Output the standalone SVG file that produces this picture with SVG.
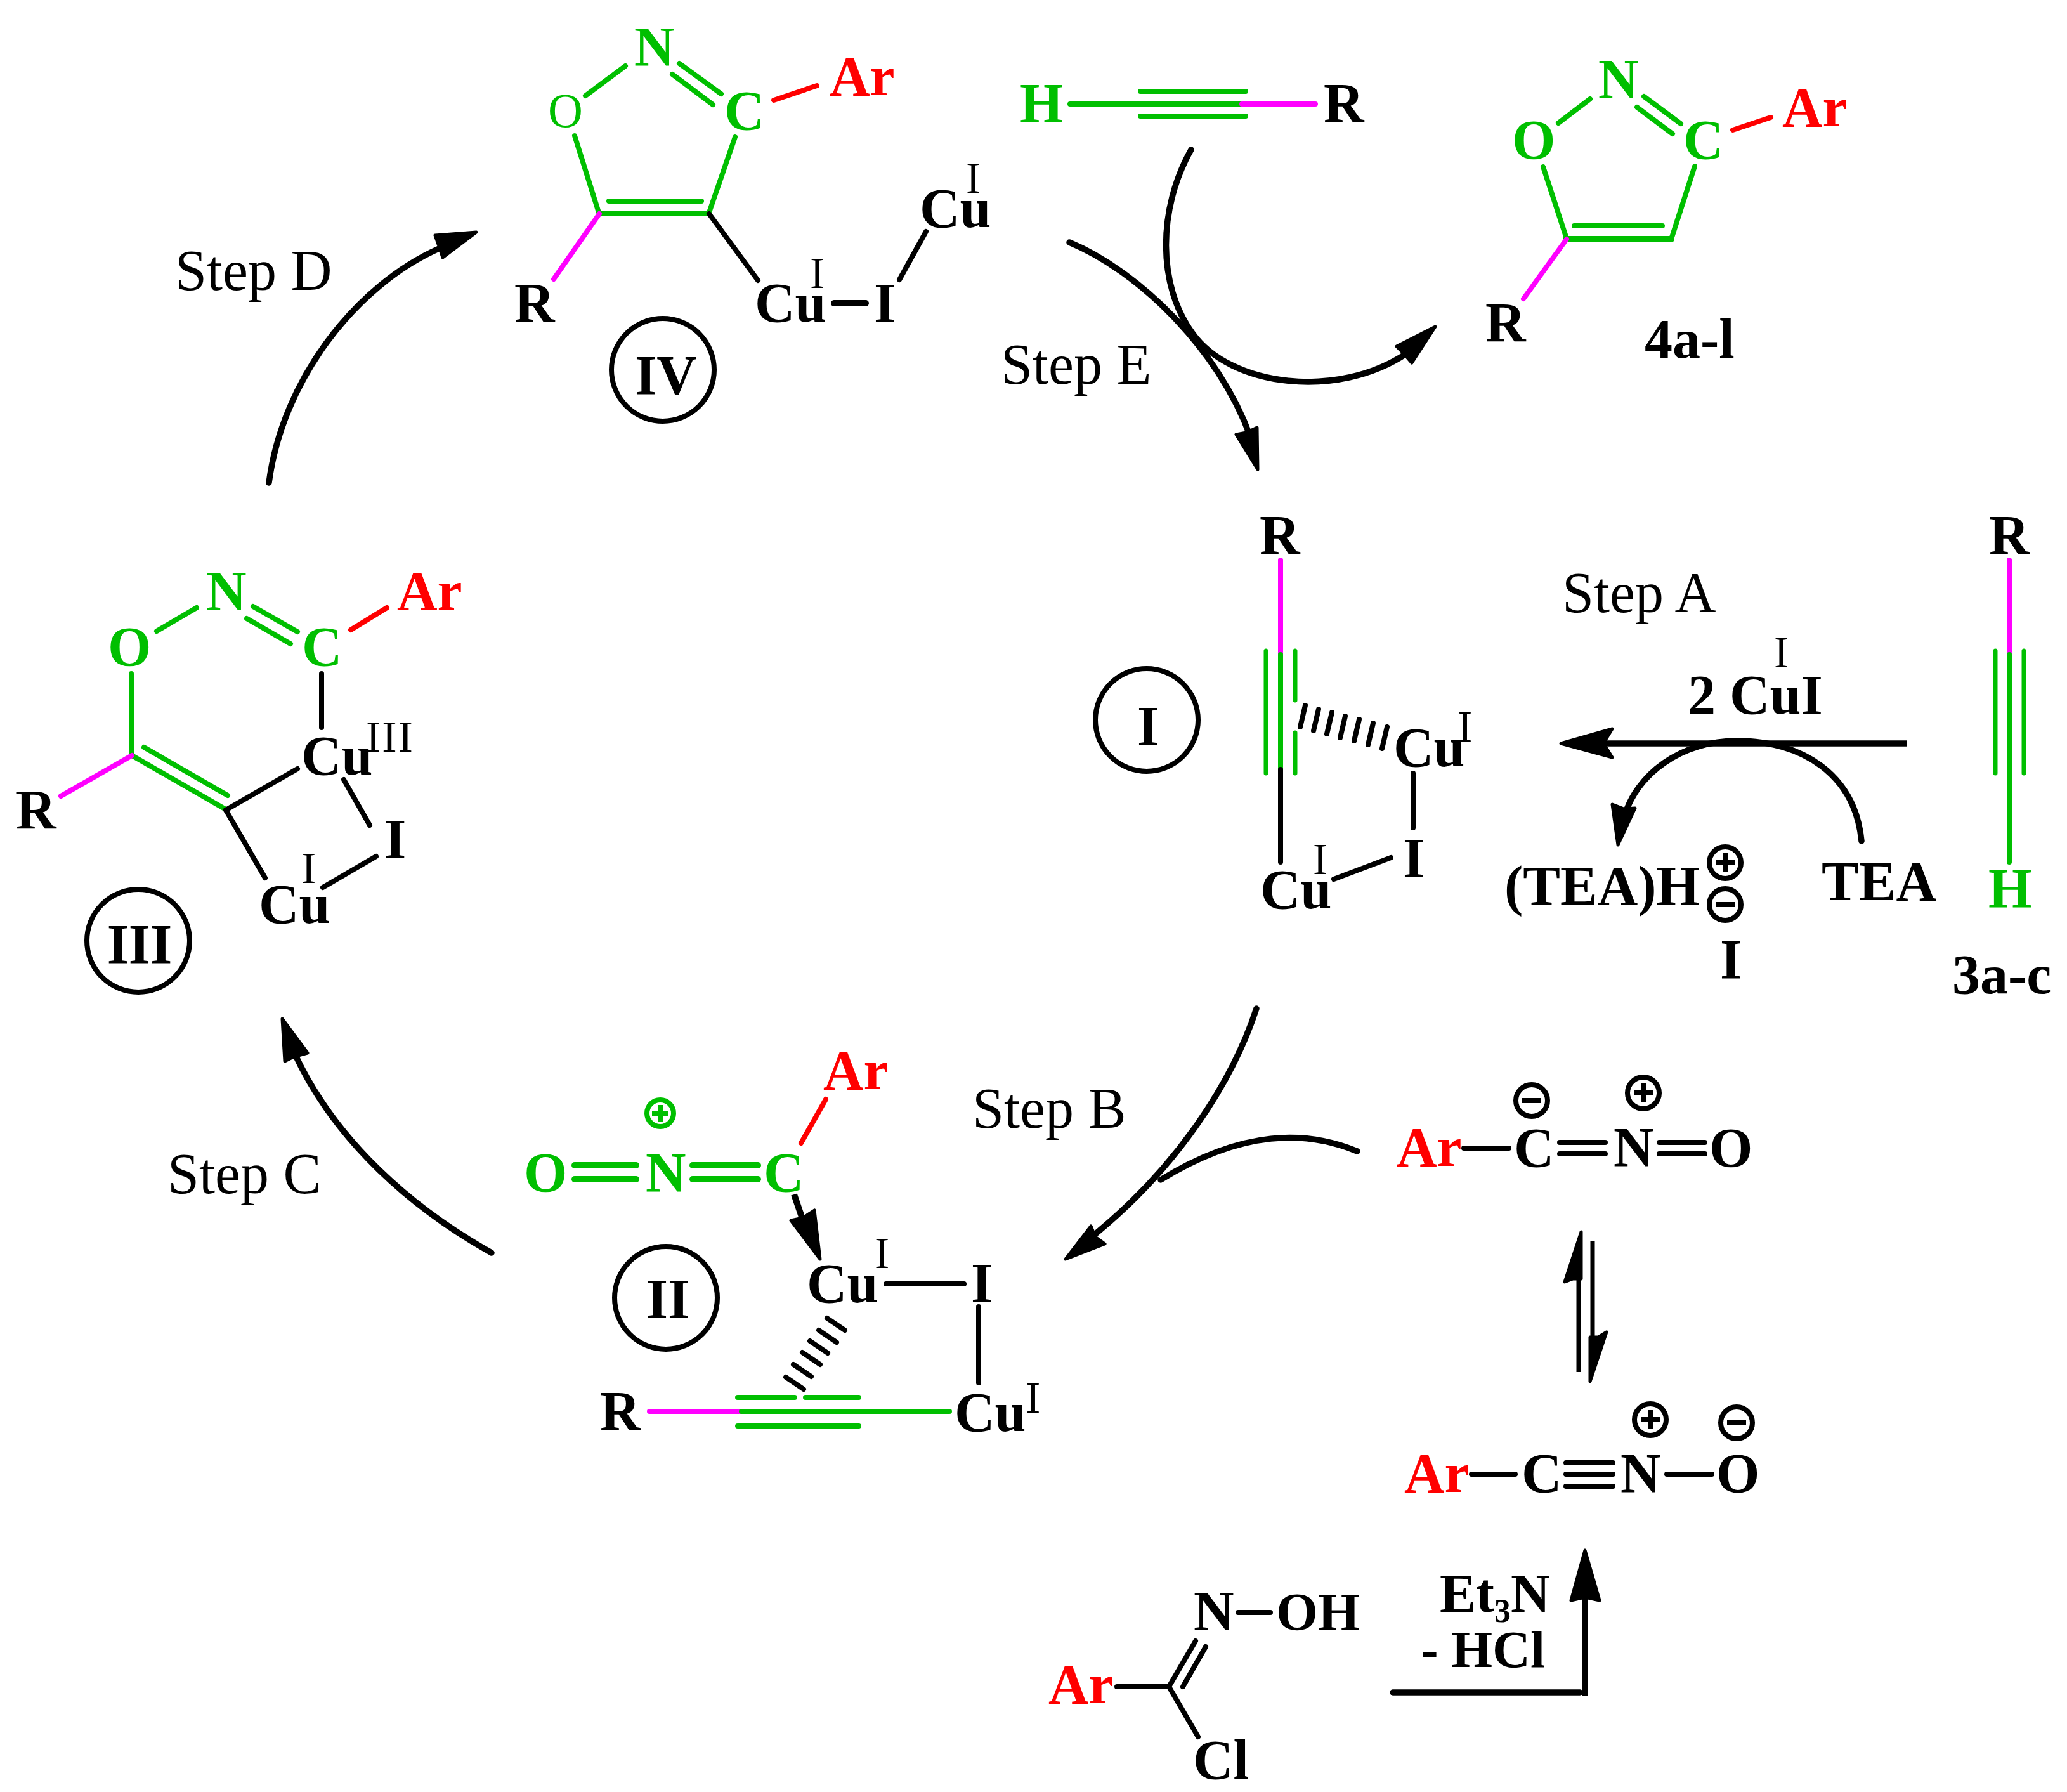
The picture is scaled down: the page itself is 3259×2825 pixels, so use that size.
<svg xmlns="http://www.w3.org/2000/svg" width="3259" height="2825" viewBox="0 0 3259 2825">
<style>
text{font-family:"Liberation Serif","Times New Roman",serif;font-size:88px;font-weight:700;fill:#000}
text.r{font-weight:400;font-size:90px}
text.s{font-weight:400;font-size:70px}
text.g{fill:#00bf00}
text.a{fill:#f00}
line,path.l{stroke-width:8;stroke-linecap:round;fill:none}
.gb{stroke:#00bf00}
.mb{stroke:#f0f}
.rb{stroke:#f00}
.bb{stroke:#000}
.c{fill:none;stroke:#000;stroke-width:8}
.arc{fill:none;stroke:#000;stroke-width:9.5;stroke-linecap:round}
.hd{fill:#000;stroke:#000;stroke-width:5;stroke-linejoin:round}
line.th{stroke-width:10}
line.tn{stroke-width:7}
</style>
<defs>
<g id="plus"><circle r="25" fill="none" stroke="#000" stroke-width="8"/><path d="M-15 0H15M0-15V15" stroke="#000" stroke-width="8" fill="none"/></g>
<g id="minus"><circle r="25" fill="none" stroke="#000" stroke-width="8"/><path d="M-15 0H15" stroke="#000" stroke-width="8" fill="none"/></g>
<g id="plusg"><circle r="21" fill="none" stroke="#00bf00" stroke-width="8"/><path d="M-13 0H13M0-13V13" stroke="#00bf00" stroke-width="8" fill="none"/></g>
</defs>
<rect width="3259" height="2825" fill="#fff"/>

<g id="connectors">
<path class="arc" d="M424 761C445 600 560 450 694 391"/>
<polygon class="hd" points="751,366 686,371 692,388 698,406"/>
<path class="arc" d="M775 1975C650 1905 530 1800 466 1664"/>
<polygon class="hd" points="445,1606 449,1673 463,1666 485,1660"/>
<path class="arc" d="M1686 382C1790 425 1920 545 1972 690"/>
<polygon class="hd" points="1983,740 1949,685 1965,682 1982,674"/>
<path class="arc" d="M1878 236C1825 330 1825 450 1880 525C1940 610 2110 630 2218 557"/>
<polygon class="hd" points="2263,515 2202,546 2214,558 2226,572"/>
<path class="arc" d="M1981 1590C1945 1700 1860 1840 1715 1955"/>
<polygon class="hd" points="1680,1985 1720,1933 1727,1950 1742,1961"/>
<path class="arc" d="M2140 1815C2060 1782 1960 1780 1830 1860"/>
<path class="arc" style="stroke-linecap:butt" d="M3007 1172H2530"/>
<polygon class="hd" points="2461,1172 2542,1149 2528,1172 2542,1194"/>
<path class="arc" d="M2935 1326C2925 1220 2840 1168 2740 1168C2650 1168 2580 1220 2560 1290"/>
<polygon class="hd" points="2551,1332 2542,1268 2560,1275 2578,1274"/>
<path class="arc" style="stroke-linecap:butt;stroke-width:7" d="M2489 2163V2000"/>
<polygon class="hd" points="2493,1942 2467,2021 2480,2016 2493,2016"/>
<path class="arc" style="stroke-linecap:butt;stroke-width:7" d="M2511 1956V2120"/>
<polygon class="hd" points="2507,2178 2507,2108 2520,2108 2533,2100"/>
<path class="arc" d="M2196 2668H2491"/>
<path class="arc" style="stroke-linecap:butt" d="M2499 2673V2510"/>
<polygon class="hd" points="2499,2444 2477,2523 2499,2518 2522,2523"/>
</g>

<g id="compound-IV">
<line class="gb" x1="923" y1="151" x2="986" y2="104"/>
<line class="gb" x1="1071" y1="100" x2="1137" y2="148"/>
<line class="gb" x1="1060" y1="117" x2="1124" y2="165"/>
<line class="rb" x1="1220" y1="158" x2="1288" y2="135"/>
<line class="gb" x1="906" y1="214" x2="944" y2="335"/>
<line class="gb" x1="1159" y1="216" x2="1118" y2="335"/>
<line class="gb" x1="946" y1="337" x2="1118" y2="337"/>
<line class="gb" x1="960" y1="317" x2="1106" y2="317"/>
<line class="mb" x1="945" y1="337" x2="873" y2="440"/>
<line class="bb" x1="1118" y1="337" x2="1195" y2="442"/>
<line class="bb th" x1="1315" y1="478" x2="1365" y2="478"/>
<line class="bb" x1="1418" y1="441" x2="1460" y2="365"/>
<text class="r g" style="font-size:76px" x="864" y="200">O</text>
<text class="g" x="1000" y="103">N</text>
<text class="g" x="1142" y="204">C</text>
<text class="a" x="1308" y="150">Ar</text>
<text x="811" y="507">R</text>
<text x="1190" y="507">Cu</text>
<text class="s" x="1277" y="454">I</text>
<text x="1378" y="507">I</text>
<text x="1450" y="358">Cu</text>
<text class="s" x="1523" y="304">I</text>
<ellipse class="c" cx="1045" cy="583" rx="81" ry="81"/>
<text text-anchor="middle" x="1050" y="621">IV</text>
</g>

<g id="alkyne-top">
<line class="gb" x1="1687" y1="164" x2="1960" y2="164"/>
<line class="gb" x1="1798" y1="144" x2="1964" y2="144"/>
<line class="gb" x1="1798" y1="183" x2="1964" y2="183"/>
<line class="mb" x1="1958" y1="164" x2="2074" y2="164"/>
<text class="g" x="1608" y="192">H</text>
<text x="2087" y="192">R</text>
</g>

<g id="product-4a-l">
<line class="gb" x1="2457" y1="194" x2="2507" y2="156"/>
<line class="gb" x1="2592" y1="152" x2="2650" y2="195"/>
<line class="gb" x1="2581" y1="169" x2="2637" y2="211"/>
<line class="rb" x1="2732" y1="205" x2="2792" y2="185"/>
<line class="gb" x1="2433" y1="263" x2="2469" y2="373"/>
<line class="gb" x1="2672" y1="262" x2="2635" y2="377"/>
<line class="gb th" x1="2469" y1="377" x2="2635" y2="377"/>
<line class="gb" x1="2482" y1="356" x2="2621" y2="356"/>
<line class="mb" x1="2470" y1="377" x2="2402" y2="471"/>
<text class="g" x="2384" y="250">O</text>
<text class="g" x="2520" y="154">N</text>
<text class="g" x="2654" y="250">C</text>
<text class="a" x="2810" y="199">Ar</text>
<text x="2342" y="538">R</text>
<text x="2593" y="564">4a-l</text>
</g>

<g id="compound-I">
<line class="mb" x1="2019" y1="883" x2="2019" y2="1032"/>
<line class="gb" x1="2019" y1="1032" x2="2019" y2="1213"/>
<line class="gb tn" x1="1996" y1="1026" x2="1996" y2="1219"/>
<line class="gb tn" x1="2042" y1="1026" x2="2042" y2="1104"/>
<line class="gb tn" x1="2042" y1="1155" x2="2042" y2="1219"/>
<line class="bb" x1="2019" y1="1213" x2="2019" y2="1359"/>
<line class="bb" x1="2058" y1="1112" x2="2050" y2="1146"/>
<line class="bb" x1="2079" y1="1118" x2="2071" y2="1152"/>
<line class="bb" x1="2100" y1="1123" x2="2092" y2="1157"/>
<line class="bb" x1="2121" y1="1129" x2="2113" y2="1163"/>
<line class="bb" x1="2143" y1="1134" x2="2135" y2="1168"/>
<line class="bb" x1="2165" y1="1140" x2="2157" y2="1174"/>
<line class="bb" x1="2187" y1="1146" x2="2179" y2="1180"/>
<line class="bb" x1="2228" y1="1219" x2="2228" y2="1305"/>
<line class="bb" x1="2193" y1="1352" x2="2103" y2="1386"/>
<text x="1986" y="873">R</text>
<text x="2197" y="1208">Cu</text>
<text class="s" x="2298" y="1169">I</text>
<text x="2212" y="1382">I</text>
<text x="1987" y="1432">Cu</text>
<text class="s" x="2070" y="1378">I</text>
<ellipse class="c" cx="1808" cy="1135" rx="81" ry="81"/>
<text text-anchor="middle" x="1810" y="1174">I</text>
</g>

<g id="reagents-A">
<text x="2661" y="1125">2 CuI</text>
<text class="s" x="2797" y="1052">I</text>
<text x="2372" y="1426">(TEA)H</text>
<use href="#plus" x="2720" y="1360"/>
<use href="#minus" x="2720" y="1426"/>
<text x="2712" y="1542">I</text>
<text x="2872" y="1419">TEA</text>
</g>

<g id="alkyne-3a-c">
<line class="mb" x1="3168" y1="883" x2="3168" y2="1032"/>
<line class="gb" x1="3168" y1="1032" x2="3168" y2="1359"/>
<line class="gb tn" x1="3146" y1="1026" x2="3146" y2="1219"/>
<line class="gb tn" x1="3191" y1="1026" x2="3191" y2="1219"/>
<text x="3136" y="873">R</text>
<text class="g" x="3135" y="1430">H</text>
<text x="3078" y="1566">3a-c</text>
</g>

<g id="compound-III">
<line class="gb" x1="247" y1="995" x2="310" y2="958"/>
<line class="gb" x1="399" y1="956" x2="469" y2="996"/>
<line class="gb" x1="389" y1="975" x2="458" y2="1015"/>
<line class="rb" x1="553" y1="993" x2="610" y2="958"/>
<line class="bb" x1="507" y1="1062" x2="507" y2="1147"/>
<line class="gb" x1="207" y1="1062" x2="207" y2="1189"/>
<line class="gb" x1="208" y1="1191" x2="356" y2="1276"/>
<line class="gb" x1="227" y1="1178" x2="359" y2="1254"/>
<line class="mb" x1="208" y1="1191" x2="96" y2="1255"/>
<line class="bb" x1="356" y1="1277" x2="469" y2="1212"/>
<line class="bb" x1="356" y1="1277" x2="418" y2="1384"/>
<line class="bb" x1="542" y1="1229" x2="583" y2="1301"/>
<line class="bb" x1="593" y1="1350" x2="509" y2="1399"/>
<text class="g" x="170" y="1049">O</text>
<text class="g" x="325" y="961">N</text>
<text class="g" x="476" y="1049">C</text>
<text class="a" x="626" y="961">Ar</text>
<text x="25" y="1306">R</text>
<text x="475" y="1221">Cu</text>
<text class="s" style="letter-spacing:2px" x="577" y="1185">III</text>
<text x="606" y="1352">I</text>
<text x="408" y="1455">Cu</text>
<text class="s" x="475" y="1392">I</text>
<ellipse class="c" cx="218" cy="1483" rx="81" ry="81"/>
<text text-anchor="middle" x="220" y="1518">III</text>
</g>

<g id="compound-II">
<line class="rb" x1="1302" y1="1733" x2="1263" y2="1802"/>
<line class="gb th" x1="906" y1="1837" x2="1003" y2="1837"/>
<line class="gb th" x1="906" y1="1859" x2="1003" y2="1859"/>
<line class="gb th" x1="1092" y1="1837" x2="1195" y2="1837"/>
<line class="gb th" x1="1092" y1="1859" x2="1195" y2="1859"/>
<line class="bb th" style="stroke-linecap:butt" x1="1252" y1="1883" x2="1268" y2="1930"/>
<polygon class="hd" points="1293,1985 1247,1924 1266,1920 1284,1908"/>
<line class="bb" x1="1397" y1="2024" x2="1520" y2="2024"/>
<line class="bb" x1="1543" y1="2060" x2="1543" y2="2180"/>
<line class="mb" x1="1024" y1="2225" x2="1169" y2="2225"/>
<line class="gb" x1="1169" y1="2225" x2="1497" y2="2225"/>
<line class="gb" x1="1163" y1="2203" x2="1253" y2="2203"/>
<line class="gb" x1="1270" y1="2203" x2="1354" y2="2203"/>
<line class="gb" x1="1163" y1="2248" x2="1354" y2="2248"/>
<line class="bb" x1="1304" y1="2078" x2="1332" y2="2097"/>
<line class="bb" x1="1291" y1="2097" x2="1319" y2="2116"/>
<line class="bb" x1="1277" y1="2114" x2="1305" y2="2133"/>
<line class="bb" x1="1265" y1="2132" x2="1293" y2="2151"/>
<line class="bb" x1="1251" y1="2151" x2="1279" y2="2170"/>
<line class="bb" x1="1239" y1="2171" x2="1267" y2="2190"/>
<text class="a" x="1298" y="1717">Ar</text>
<use href="#plusg" x="1041" y="1755"/>
<text class="g" x="826" y="1878">O</text>
<text class="g" x="1018" y="1878">N</text>
<text class="g" x="1204" y="1878">C</text>
<text x="1272" y="2053">Cu</text>
<text class="s" x="1379" y="1999">I</text>
<text x="1531" y="2052">I</text>
<text x="1505" y="2256">Cu</text>
<text class="s" x="1617" y="2227">I</text>
<text x="946" y="2254">R</text>
<ellipse class="c" cx="1050" cy="2046" rx="81" ry="81"/>
<text text-anchor="middle" x="1053" y="2077">II</text>
</g>

<g id="fulminate-resonance">
<line class="bb" x1="2308" y1="1810" x2="2379" y2="1810"/>
<line class="bb" x1="2459" y1="1801" x2="2531" y2="1801"/>
<line class="bb" x1="2459" y1="1819" x2="2531" y2="1819"/>
<line class="bb" x1="2616" y1="1801" x2="2688" y2="1801"/>
<line class="bb" x1="2616" y1="1819" x2="2688" y2="1819"/>
<text class="a" x="2202" y="1838">Ar</text>
<text x="2387" y="1839">C</text>
<text x="2544" y="1838">N</text>
<text x="2695" y="1839">O</text>
<use href="#minus" x="2415" y="1735"/>
<use href="#plus" x="2591" y="1723"/>
</g>

<g id="nitrile-oxide">
<line class="bb" x1="2320" y1="2324" x2="2389" y2="2324"/>
<line class="bb" x1="2469" y1="2306" x2="2543" y2="2306"/>
<line class="bb" x1="2469" y1="2324" x2="2543" y2="2324"/>
<line class="bb" x1="2469" y1="2343" x2="2543" y2="2343"/>
<line class="bb" x1="2628" y1="2324" x2="2699" y2="2324"/>
<text class="a" x="2214" y="2352">Ar</text>
<text x="2399" y="2352">C</text>
<text x="2555" y="2352">N</text>
<text x="2706" y="2352">O</text>
<use href="#plus" x="2602" y="2238"/>
<use href="#minus" x="2738" y="2243"/>
</g>

<g id="oxime">
<line class="bb" x1="1952" y1="2542" x2="2003" y2="2542"/>
<line class="bb" x1="1761" y1="2659" x2="1843" y2="2659"/>
<line class="bb" x1="1843" y1="2659" x2="1885" y2="2587"/>
<line class="bb" x1="1865" y1="2659" x2="1901" y2="2596"/>
<line class="bb" x1="1843" y1="2659" x2="1889" y2="2738"/>
<text x="1882" y="2569">N</text>
<text x="2012" y="2570" style="font-size:85px">OH</text>
<text class="a" x="1653" y="2685">Ar</text>
<text x="1881" y="2804">Cl</text>
<text x="2270" y="2541" style="font-size:86px">Et<tspan font-size="52" dy="16">3</tspan><tspan dy="-16">N</tspan></text>
<text x="2240" y="2628" style="font-size:83px">- HCl</text>
</g>

<g id="step-labels">
<text class="r" x="2463" y="965">Step A</text>
<text class="r" x="1533" y="1778">Step B</text>
<text class="r" x="264" y="1881">Step C</text>
<text class="r" x="276" y="457">Step D</text>
<text class="r" x="1578" y="605">Step E</text>
</g>
</svg>
